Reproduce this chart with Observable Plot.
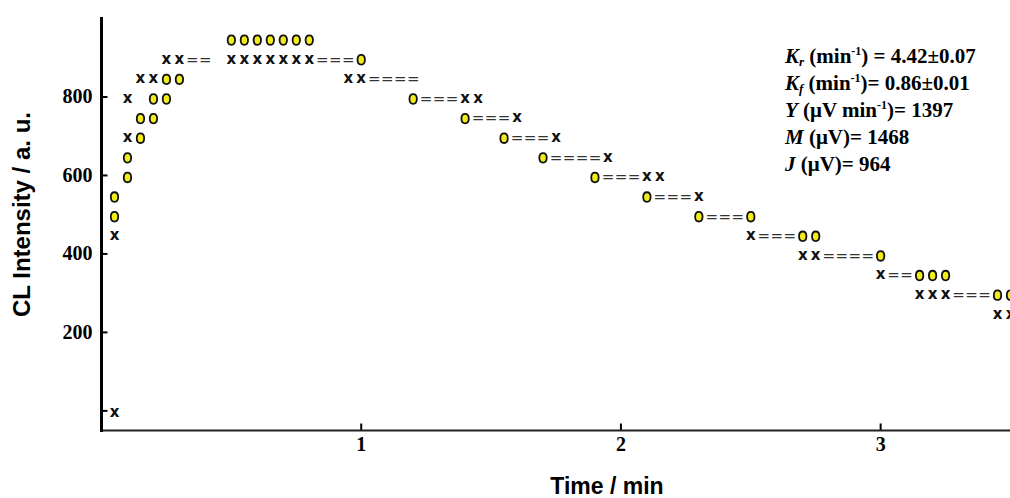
<!DOCTYPE html>
<html><head><meta charset="utf-8">
<script src="https://cdn.jsdelivr.net/npm/d3@7"></script>
<script src="https://cdn.jsdelivr.net/npm/@observablehq/plot@0.6"></script>
<style>
body{margin:0;background:#fff;}
#wrap{position:relative;width:1010px;height:498px;overflow:hidden;background:#fff;}
#note{position:absolute;left:785px;top:43px;font-family:"Liberation Serif","Times New Roman",serif;font-weight:bold;font-size:21px;color:#000;white-space:nowrap;}
#note div{height:27px;line-height:27px;}
#note i{font-style:italic;}
#note sub{font-size:13px;line-height:0;vertical-align:baseline;position:relative;top:3px;}
#note sup{font-size:12px;line-height:0;vertical-align:baseline;position:relative;top:-8px;}
</style></head>
<body>
<div id="wrap">
<div id="chart"></div>
<div id="note">
<div><i>K<sub>r</sub></i> (min<sup>-1</sup>) = 4.42±0.07</div>
<div><i>K<sub>f</sub></i> (min<sup>-1</sup>)= 0.86±0.01</div>
<div><i>Y</i> (μV min<sup>-1</sup>)= 1397</div>
<div><i>M</i> (μV)= 1468</div>
<div><i>J</i> (μV)= 964</div>
</div>
</div>
<script>
// Printed rows of the CL trace: intensity level, time of first printed column, glyph string
const rowLevels = [950, 900, 850, 850, 800, 800, 750, 750, 700, 700, 650, 650, 600, 600, 550, 550, 500, 500, 450, 450, 400, 350, 300, 250, 0];
const rowStarts = [0.50, 0.25, 0.15, 0.95, 0.10, 1.20, 0.15, 1.40, 0.10, 1.55, 0.10, 1.70, 0.10, 1.90, 0.05, 2.10, 0.05, 2.30, 0.05, 2.50, 2.70, 3.00, 3.15, 3.45, 0.05];
const rowGlyphs = ["0000000", "xx== xxxxxxx===0", "xx00", "xx====", "x 00", "0===xx", "00", "0===x", "x0", "0===x", "0", "0====x", "0", "0===xx", "0", "0===x", "0", "0===0", "x", "x===00", "xx====0", "x==000", "xxx===00", "xx", "x"];
const sampleStep = 0.05; // minutes per printed column
const xTicks = [1, 2, 3];
const yTickMarks = [0, 200, 400, 600, 800];
const yTickLabels = [200, 400, 600, 800];
const xTitle = "Time / min";
const yTitle = "CL Intensity / a. u.";

const glyphs = [];
rowGlyphs.forEach((s, r) => {
  [...s].forEach((ch, i) => {
    if (ch !== " ") glyphs.push({time: +(rowStarts[r] + i * sampleStep).toFixed(3), level: rowLevels[r], ch});
  });
});

const oval = {draw(ctx) {
  const rx = 3.7, ry = 4.8, k = 0.62;
  ctx.moveTo(rx, 0);
  ctx.bezierCurveTo(rx, ry * k, rx * k, ry, 0, ry);
  ctx.bezierCurveTo(-rx * k, ry, -rx, ry * k, -rx, 0);
  ctx.bezierCurveTo(-rx, -ry * k, -rx * k, -ry, 0, -ry);
  ctx.bezierCurveTo(rx * k, -ry, rx, -ry * k, rx, 0);
  ctx.closePath();
}};
const tickRight = {draw(ctx) { ctx.moveTo(0, 0); ctx.lineTo(6, 0); }};
const tickUp = {draw(ctx) { ctx.moveTo(0, 0); ctx.lineTo(0, -7); }};

const serif = "'Liberation Serif', 'Times New Roman', serif";
const sans = "'Liberation Sans', Arial, sans-serif";

const plot = Plot.plot({
  width: 1010,
  height: 498,
  marginLeft: 101,
  marginRight: 0,
  marginTop: 18,
  marginBottom: 68,
  style: {background: "#fff", overflow: "hidden", fontFamily: serif},
  x: {domain: [0, 3.5]},
  y: {domain: [-50, 1000]},
  marks: [
    Plot.axisX({ticks: xTicks, tickFormat: "d", tickSize: 0, tickPadding: 6, label: null, fontSize: 20, fontFamily: serif, fontWeight: "bold", fill: "#000"}),
    Plot.axisY({ticks: yTickLabels, tickFormat: "d", tickSize: 0, tickPadding: 9, label: null, fontSize: 20, fontFamily: serif, fontWeight: "bold", fill: "#000"}),
    Plot.dot(xTicks, {x: d => d, frameAnchor: "bottom", symbol: tickUp, fill: "none", stroke: "#000", strokeWidth: 2}),
    Plot.dot(yTickMarks, {y: d => d, frameAnchor: "left", symbol: tickRight, fill: "none", stroke: "#000", strokeWidth: 2}),
    Plot.frame({anchor: "bottom", stroke: "#222", strokeWidth: 2.2}),
    Plot.frame({anchor: "left", stroke: "#000", strokeWidth: 3}),
    Plot.text(glyphs.filter(d => d.ch === "="), {x: "time", y: "level", text: "ch", fontFamily: "DejaVu Sans", fontSize: 15, fill: "#333", dy: 2}),
    Plot.text(glyphs.filter(d => d.ch === "x"), {x: "time", y: "level", text: "ch", fontFamily: "DejaVu Sans", fontWeight: "bold", fontSize: 15, fill: "#111", dy: 1}),
    Plot.dot(glyphs.filter(d => d.ch === "0"), {x: "time", y: "level", symbol: oval, fill: "#f2ec1c", stroke: "#111", strokeWidth: 1.8, dy: 2}),
    Plot.text([xTitle], {frameAnchor: "bottom", textAnchor: "middle", lineAnchor: "middle", dx: 51, dy: 56, fontFamily: sans, fontWeight: "bold", fontSize: 23, fill: "#000"}),
    Plot.text([yTitle], {frameAnchor: "left", textAnchor: "middle", lineAnchor: "middle", rotate: -90, dx: -79, dy: -10, fontFamily: sans, fontWeight: "bold", fontSize: 24, fill: "#000"})
  ]
});
document.getElementById("chart").appendChild(plot);
</script>
</body></html>
